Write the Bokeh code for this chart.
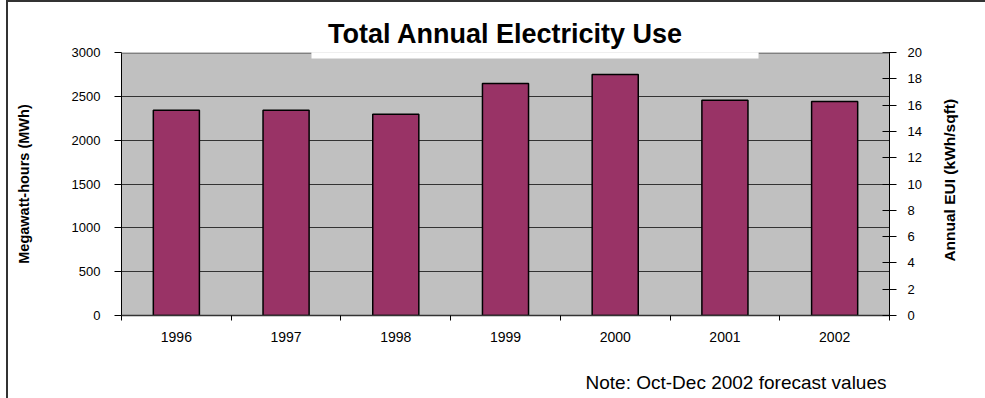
import math
from bokeh.plotting import figure
from bokeh.layouts import row, column
from bokeh.models import Range1d, LinearAxis, FixedTicker, Title, BoxAnnotation, Label, ColumnDataSource
from bokeh.embed import file_html
from bokeh.resources import INLINE

years = ["1996", "1997", "1998", "1999", "2000", "2001", "2002"]
mwh = [2340, 2340, 2295, 2645, 2750, 2455, 2440]
left_ticks = [0, 500, 1000, 1500, 2000, 2500, 3000]
right_ticks = [0, 2, 4, 6, 8, 10, 12, 14, 16, 18, 20]
title_text = "Total Annual Electricity Use"
left_label = "Megawatt-hours (MWh)"
right_label = "Annual EUI (kWh/sqft)"
note_text = "Note: Oct-Dec 2002 forecast values"

FONT = "Liberation Sans"

xs = [i + 0.5 for i in range(len(years))]
src = ColumnDataSource(dict(x=xs, top=mwh, year=years))

# page origin of the content (margin 6 + border 2)
OX, OY = 8, 2
W_MAIN, H_MAIN = 927, 350       # main chart
W_SIDE = 985 - OX - W_MAIN       # right-side strip for the EUI axis title
H_NOTE = 398 - OY - H_MAIN       # bottom strip for the note

p = figure(width=W_MAIN, height=H_MAIN, x_range=Range1d(0, len(years)), y_range=Range1d(0, 3000),
           output_backend="svg", toolbar_location=None,
           min_border_left=121 - OX, min_border_right=W_MAIN - (889 - OX),
           min_border_top=52 - OY, min_border_bottom=H_MAIN - (315 - OY),
           background_fill_color="#C0C0C0", border_fill_color="white",
           outline_line_color=None, title=None)

p.vbar(x="x", top="top", width=0.42, source=src, fill_color="#993366",
       line_color="black", line_width=1.5)

p.xgrid.visible = False
p.ygrid.ticker = FixedTicker(ticks=left_ticks)
p.ygrid.grid_line_color = "#333333"
p.ygrid.grid_line_width = 1

# bottom axis: labels centred under bars, ticks on category boundaries
xa = p.xaxis[0]
xa.ticker = FixedTicker(ticks=xs, minor_ticks=list(range(len(years) + 1)))
xa.major_label_overrides = {x: y for x, y in zip(xs, years)}
xa.major_tick_line_color = None
xa.major_tick_in = 0
xa.major_tick_out = 0
xa.minor_tick_in = 0
xa.minor_tick_out = 5
xa.minor_tick_line_color = "black"
xa.axis_line_color = "#333333"
xa.axis_line_width = 1.5
xa.major_label_text_font = FONT
xa.major_label_text_font_size = "14px"
xa.major_label_text_color = "black"
xa.major_label_standoff = 11

# left axis
ya = p.yaxis[0]
ya.ticker = FixedTicker(ticks=left_ticks)
ya.major_tick_in = 0
ya.major_tick_out = 7
ya.minor_tick_line_color = None
ya.axis_line_color = "black"
ya.major_tick_line_color = "black"
ya.major_label_text_font = FONT
ya.major_label_text_font_size = "13px"
ya.major_label_text_color = "black"
ya.major_label_standoff = 14
ya.axis_label = left_label
ya.axis_label_text_font = FONT
ya.axis_label_text_font_style = "bold"
ya.axis_label_text_font_size = "14.5px"
ya.axis_label_text_color = "black"
ya.axis_label_standoff = 37

# right axis
p.extra_y_ranges = {"eui": Range1d(0, 20)}
ra = LinearAxis(y_range_name="eui", ticker=FixedTicker(ticks=right_ticks),
                major_tick_in=7, major_tick_out=7, minor_tick_line_color=None,
                axis_line_color="black", major_tick_line_color="black",
                major_label_text_font=FONT, major_label_text_font_size="13px",
                major_label_text_color="black", major_label_standoff=11)
p.add_layout(ra, "right")

# gray top edge of plot area, interrupted by the white title box
for l, r in [(121, 311), (758, 889)]:
    p.add_layout(BoxAnnotation(left=l - OX, right=r - OX, top=52 - OY, bottom=53.5 - OY,
                               left_units="canvas", right_units="canvas",
                               top_units="canvas", bottom_units="canvas",
                               fill_color="#808080", fill_alpha=1.0, line_color=None))
# white title box (overlaps top of plot area)
p.add_layout(BoxAnnotation(left=311 - OX, right=758 - OX, top=6, bottom=58 - OY,
                           left_units="canvas", right_units="canvas",
                           top_units="canvas", bottom_units="canvas",
                           fill_color="white", fill_alpha=1.0, line_color=None))

title = Title(text=title_text, align="center", text_font=FONT, text_font_style="bold",
              text_font_size="27px", text_color="black", standoff=7)
p.add_layout(title, "above")

# right strip holding the EUI axis title (reads bottom-to-top)
p2 = figure(width=W_SIDE, height=H_MAIN, x_range=Range1d(0, W_SIDE), y_range=Range1d(0, H_MAIN),
            output_backend="svg", toolbar_location=None, x_axis_location=None,
            y_axis_location=None, min_border=0, outline_line_color=None,
            background_fill_color="white", border_fill_color="white")
p2.grid.visible = False
p2.add_layout(Label(x=14, y=180, text=right_label, angle=math.pi / 2,
                    text_align="center", text_baseline="middle", text_font=FONT,
                    text_font_style="bold", text_font_size="15.5px", text_color="black"))

# bottom strip holding the note
p3 = figure(width=985 - OX, height=H_NOTE, x_range=Range1d(0, 985 - OX), y_range=Range1d(0, H_NOTE),
            output_backend="svg", toolbar_location=None, x_axis_location=None,
            y_axis_location=None, min_border=0, outline_line_color=None,
            background_fill_color="white", border_fill_color="white")
p3.grid.visible = False
p3.add_layout(Label(x=878, y=16, text=note_text,
                    text_align="right", text_baseline="alphabetic", text_font=FONT,
                    text_font_size="19px", text_color="black"))

layout = column(row(p, p2, spacing=0), p3, spacing=0)
layout.styles = {"border-top": "2px solid #333333", "border-left": "2px solid #333333",
                 "margin-left": "6px"}

open("out.html", "w").write(file_html(layout, INLINE))
